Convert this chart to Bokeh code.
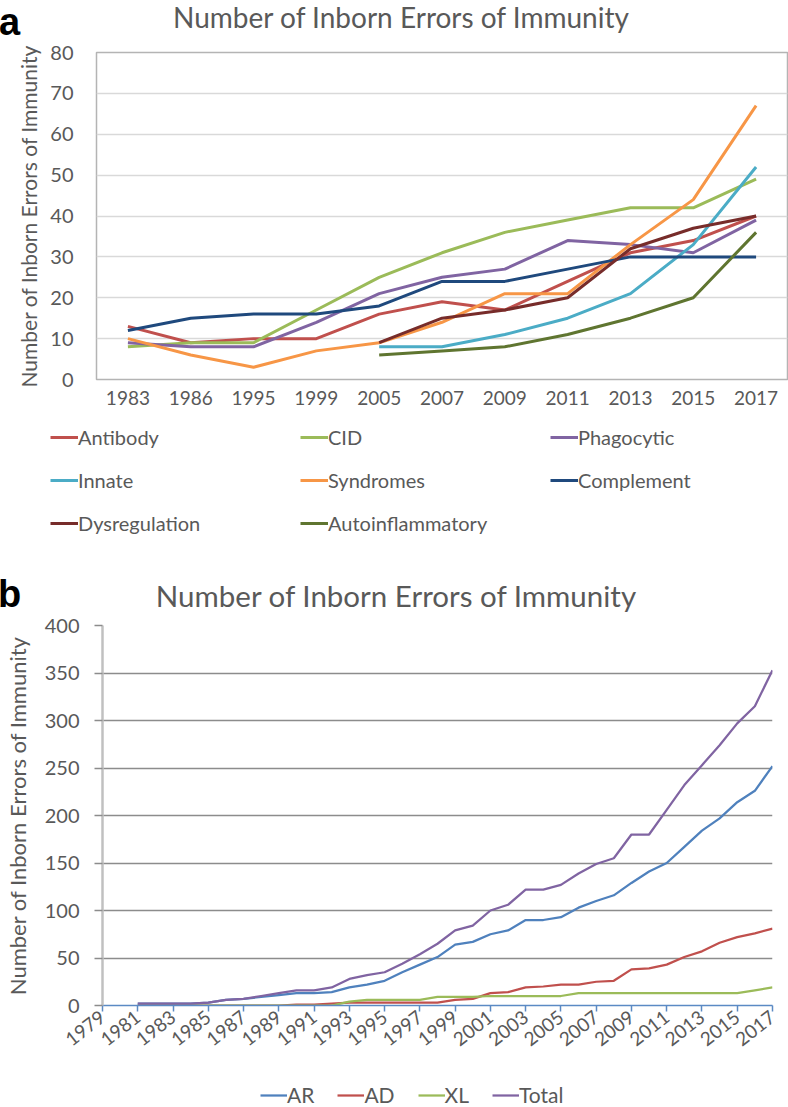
import numpy as np
from bokeh.plotting import figure
from bokeh.models import Range1d, FactorRange, FixedTicker, Legend, LegendItem, Div
from bokeh.layouts import column
from bokeh.embed import file_html
from bokeh.resources import INLINE

FONT = "Lato"
GREY = "#595959"
TITLE = "Number of Inborn Errors of Immunity"
W = 788

# ---------------- panel a data ----------------
years_a = ["1983", "1986", "1995", "1999", "2005", "2007", "2009", "2011", "2013", "2015", "2017"]
years_a_late = ["2005", "2007", "2009", "2011", "2013", "2015", "2017"]
antibody = [13, 9, 10, 10, 16, 19, 17, 24, 31, 34, 40]
cid = [8, 9, 9, 17, 25, 31, 36, 39, 42, 42, 49]
phagocytic = [9, 8, 8, 14, 21, 25, 27, 34, 33, 31, 39]
innate = [8, 8, 11, 15, 21, 33, 52]
syndromes = [10, 6, 3, 7, 9, 14, 21, 21, 33, 44, 67]
complement = [12, 15, 16, 16, 18, 24, 24, 27, 30, 30, 30]
dysregulation = [9, 15, 17, 20, 32, 37, 40]
autoinflammatory = [6, 7, 8, 11, 15, 20, 36]
y_ticks_a = [0, 10, 20, 30, 40, 50, 60, 70, 80]

# ---------------- panel b data ----------------
years_b = [1981, 1982, 1983, 1984, 1985, 1986, 1987, 1988, 1989, 1990,
           1991, 1992, 1993, 1994, 1995, 1996, 1997, 1998, 1999, 2000,
           2001, 2002, 2003, 2004, 2005, 2006, 2007, 2008, 2009, 2010,
           2011, 2012, 2013, 2014, 2015, 2016, 2017]
ar = [2, 2, 2, 2, 3, 6, 7, 9, 11, 13,
      13, 14, 19, 22, 26, 35, 43, 51, 64, 67,
      75, 79, 90, 90, 93, 103, 110, 116, 129, 141,
      150, 167, 184, 197, 214, 226, 252]
ad = [0, 0, 0, 0, 0, 0, 0, 0, 0, 1,
      1, 2, 3, 3, 3, 3, 3, 3, 6, 7,
      13, 14, 19, 20, 22, 22, 25, 26, 38, 39,
      43, 51, 57, 66, 72, 76, 81]
xl = [0, 0, 0, 0, 0, 0, 0, 0, 0, 0,
      0, 0, 4, 6, 6, 6, 6, 9, 9, 9,
      10, 10, 10, 10, 10, 13, 13, 13, 13, 13,
      13, 13, 13, 13, 13, 16, 19]
total = [2, 2, 2, 2, 3, 6, 7, 10, 13, 16,
         16, 19, 28, 32, 35, 44, 54, 65, 79, 84,
         100, 106, 122, 122, 127, 139, 149, 155, 180, 180,
         206, 232, 253, 274, 297, 315, 353]
x_ticks_b = [1979, 1981, 1983, 1985, 1987, 1989, 1991, 1993, 1995, 1997,
             1999, 2001, 2003, 2005, 2007, 2009, 2011, 2013, 2015, 2017]
y_ticks_b = [0, 50, 100, 150, 200, 250, 300, 350, 400]

series_a = [
    ("Antibody", years_a, antibody, "#c0504d"),
    ("CID", years_a, cid, "#9bbb59"),
    ("Phagocytic", years_a, phagocytic, "#8064a2"),
    ("Innate", years_a_late, innate, "#4bacc6"),
    ("Syndromes", years_a, syndromes, "#f79646"),
    ("Complement", years_a, complement, "#1f497d"),
    ("Dysregulation", years_a_late, dysregulation, "#772c2a"),
    ("Autoinflammatory", years_a_late, autoinflammatory, "#5f7530"),
]
series_b = [("AR", ar, "#4f81bd"), ("AD", ad, "#c0504d"),
            ("XL", xl, "#9bbb59"), ("Total", total, "#8064a2")]


def header(h, letter, letter_left, letter_top, title_center, title_top, title_size):
    html = (
        f'<div style="position:relative;width:{W}px;height:{h}px;">'
        f'<span style="position:absolute;left:{letter_left}px;top:{letter_top}px;'
        f'font-family:\'Liberation Sans\',Arial,sans-serif;font-weight:bold;'
        f'font-size:38px;line-height:38px;color:#000;">{letter}</span>'
        f'<span style="position:absolute;left:{title_center}px;top:{title_top}px;'
        f'transform:translateX(-50%);font-family:Lato,sans-serif;font-size:{title_size}px;'
        f'line-height:{title_size}px;color:{GREY};white-space:nowrap;">{TITLE}</span>'
        '</div>')
    return Div(text=html, width=W, height=h, margin=0, styles={"overflow": "visible"})


def legend_fig(h, series, loc, ncols, glyph_w, spacing, label_w, font_size, lw):
    f = figure(width=W, height=h, x_range=Range1d(0, 1), y_range=Range1d(0, 1),
               x_axis_type=None, y_axis_type=None, output_backend="svg",
               toolbar_location=None, min_border=0, frame_align=False)
    f.outline_line_color = None
    items = []
    for s in series:
        name, col = s[0], s[-1]
        # legend-only renderer: a single undefined (NaN) point, nothing is drawn
        r = f.line(x=np.array([np.nan]), y=np.array([np.nan]), line_color=col, line_width=lw)
        items.append(LegendItem(label=name, renderers=[r]))
    kw = dict(ncols=ncols) if ncols else {}
    leg = Legend(items=items, orientation="horizontal", location=loc,
                 glyph_width=glyph_w, glyph_height=24, label_standoff=0,
                 label_width=label_w, label_height=24, spacing=spacing,
                 padding=0, margin=0, border_line_color=None, background_fill_alpha=0,
                 label_text_font=FONT, label_text_font_size=font_size,
                 label_text_color=GREY, **kw)
    f.add_layout(leg)
    return f


# =============== panel a ===============
head_a = header(40, "a", -1, 3, 401, 3, 28)

p1 = figure(width=W, height=380, x_range=FactorRange(*years_a, range_padding=0),
            y_range=Range1d(0, 80), output_backend="svg", toolbar_location=None,
            frame_align=False,
            min_border_left=96, min_border_right=1, min_border_top=12, min_border_bottom=41)
p1.outline_line_color = "#b4b4b4"
p1.outline_line_width = 1.5
p1.xgrid.grid_line_color = None
p1.ygrid.ticker = FixedTicker(ticks=y_ticks_a)
p1.ygrid.grid_line_color = "#d9d9d9"
p1.ygrid.grid_line_width = 1.5

ya = p1.yaxis[0]
ya.ticker = FixedTicker(ticks=y_ticks_a)
ya.axis_line_color = None
ya.major_tick_line_color = None
ya.minor_tick_line_color = None
ya.major_tick_out = 0
ya.major_label_standoff = 23
ya.major_label_text_font = FONT
ya.major_label_text_font_size = "20px"
ya.major_label_text_color = GREY
ya.axis_label = TITLE
ya.axis_label_text_font = FONT
ya.axis_label_text_font_size = "21px"
ya.axis_label_text_font_style = "normal"
ya.axis_label_text_color = GREY
ya.axis_label_standoff = 6

xa = p1.xaxis[0]
xa.axis_line_color = None
xa.major_tick_line_color = None
xa.major_tick_out = 0
xa.major_label_standoff = 11
xa.major_label_text_font = FONT
xa.major_label_text_font_size = "19px"
xa.major_label_text_color = GREY

for name, xs, ys, col in series_a:
    p1.line(xs, ys, line_color=col, line_width=3)

leg_a = legend_fig(125, series_a, (50, 10), 3, 28, 19, 203, "20px", 3)

# =============== panel b ===============
head_b = header(68, "b", -2, 30, 396, 36, 29.5)

p2 = figure(width=W, height=447, x_range=Range1d(1979, 2017), y_range=Range1d(0, 400),
            output_backend="svg", toolbar_location=None, frame_align=False,
            min_border_left=97, min_border_right=16, min_border_top=12, min_border_bottom=55)
p2.outline_line_color = None
p2.xgrid.grid_line_color = None
p2.ygrid.ticker = FixedTicker(ticks=y_ticks_b)
p2.ygrid.grid_line_color = "#8c8c8c"
p2.ygrid.grid_line_width = 1.5

yb = p2.yaxis[0]
yb.ticker = FixedTicker(ticks=y_ticks_b)
yb.axis_line_color = "#c0c0c0"
yb.axis_line_width = 2.5
yb.major_tick_line_color = "#8c8c8c"
yb.major_tick_line_width = 1.5
yb.major_tick_out = 8
yb.major_tick_in = 0
yb.minor_tick_line_color = None
yb.major_label_standoff = 15
yb.major_label_text_font = FONT
yb.major_label_text_font_size = "20px"
yb.major_label_text_color = GREY
yb.axis_label = TITLE
yb.axis_label_text_font = FONT
yb.axis_label_text_font_size = "22px"
yb.axis_label_text_font_style = "normal"
yb.axis_label_text_color = GREY
yb.axis_label_standoff = 11

xb = p2.xaxis[0]
xb.ticker = FixedTicker(ticks=x_ticks_b)
xb.axis_line_color = "#5b8ac4"
xb.axis_line_width = 1.5
xb.major_tick_line_color = "#5b8ac4"
xb.major_tick_line_width = 1.5
xb.major_tick_out = 6
xb.major_tick_in = 0
xb.minor_tick_line_color = None
xb.major_label_orientation = 0.66
xb.major_label_standoff = 3
xb.major_label_text_font = FONT
xb.major_label_text_font_size = "19px"
xb.major_label_text_color = GREY

for name, ys, col in series_b:
    p2.line(years_b, ys, line_color=col, line_width=2.25)

leg_b = legend_fig(47, series_b, (260, 0), None, 27, 23, 0, "21px", 2.25)

layout = column(head_a, p1, leg_a, head_b, p2, leg_b, spacing=0)
open("out.html", "w").write(file_html(layout, INLINE))
